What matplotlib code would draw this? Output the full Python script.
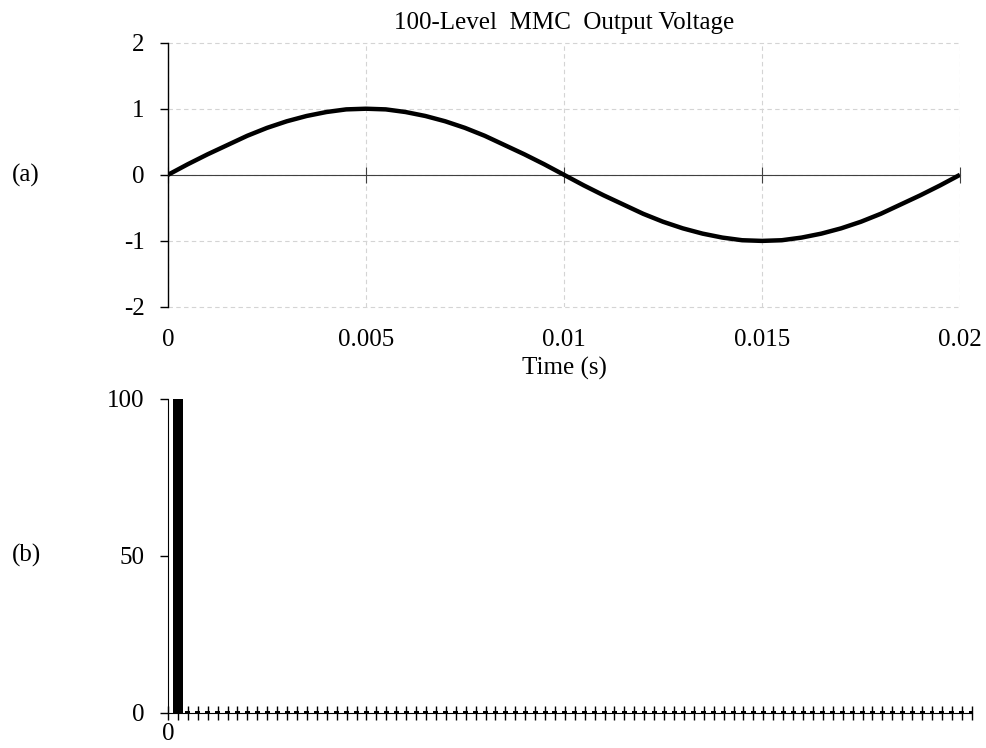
import matplotlib
matplotlib.use("Agg")
import matplotlib.pyplot as plt
import numpy as np

plt.rcParams["font.family"] = ["Liberation Serif", "DejaVu Serif"]
plt.rcParams["font.size"] = 18
plt.rcParams["axes.unicode_minus"] = False

# (a) output voltage, per unit, sampled every 0.5 ms over one 50 Hz cycle
time_s = np.linspace(0.0, 0.02, 41)
voltage_pu = [
    0.00, 0.16, 0.31, 0.45, 0.59, 0.71, 0.81, 0.89, 0.95, 0.99,
    1.00, 0.99, 0.95, 0.89, 0.81, 0.71, 0.59, 0.45, 0.31, 0.16,
    0.00, -0.16, -0.31, -0.45, -0.59, -0.71, -0.81, -0.89, -0.95, -0.99,
    -1.00, -0.99, -0.95, -0.89, -0.81, -0.71, -0.59, -0.45, -0.31, -0.16,
    0.00,
]
time_ticks = [0, 0.005, 0.01, 0.015, 0.02]
time_labels = ["0", "0.005", "0.01", "0.015", "0.02"]

# (b) harmonic spectrum, % of fundamental
harm_order = list(range(1, 82))
harm_mag = [100.0] + [0.5] * 80

fig = plt.figure(figsize=(9.87, 7.48), dpi=100)

# ---- (a) ----
ax1 = fig.add_axes([0.1702, 0.5896, 0.8024, 0.3534])
ax1.plot(time_s, voltage_pu, color="k", lw=3.2, solid_capstyle="butt", zorder=3)
ax1.set_xlim(0, 0.02)
ax1.set_ylim(-2, 2)
ax1.set_yticks([-2, -1, 0, 1, 2])
ax1.set_xticks(time_ticks)
ax1.grid(True, color="#d4d4d4", ls=(0, (4, 3)), lw=0.8)
for gl in ax1.get_xgridlines() + ax1.get_ygridlines():
    gl.set_clip_on(False)
ax1.spines["top"].set_visible(False)
ax1.spines["right"].set_visible(False)
ax1.spines["bottom"].set_position(("data", 0))
ax1.spines["bottom"].set_color("#404040")
ax1.spines["bottom"].set_linewidth(0.8)
ax1.spines["left"].set_linewidth(1.0)
ax1.tick_params(axis="x", direction="inout", length=12, width=0.8,
                color="#404040", labelbottom=False)
ax1.tick_params(axis="y", direction="out", length=6, width=1.0, pad=11)

sec = ax1.secondary_xaxis("bottom")
sec.set_xticks(time_ticks)
sec.set_xticklabels(time_labels)
sec.tick_params(length=0, pad=16)
sec.spines["bottom"].set_visible(False)
sec.set_xlabel("Time (s)", labelpad=4)

ax1.set_title("100-Level  MMC  Output Voltage", fontsize=18, pad=10)
fig.text(0.0122, 0.766, "(a)", ha="left", va="center")

# ---- (b) ----
ax2 = fig.add_axes([0.1702, 0.0468, 0.8143, 0.4198])
ax2.bar(harm_order[:1], harm_mag[:1], width=1.0, color="k", zorder=3)
ax2.bar(harm_order[1:], harm_mag[1:], width=0.5, color="k", zorder=3)
ax2.set_xlim(0, 81)
ax2.set_ylim(0, 100)
ax2.set_yticks([0, 50, 100])
ax2.set_xticks(range(0, 82))
ax2.set_xticklabels(["0"] + [""] * 81)
ax2.spines["top"].set_visible(False)
ax2.spines["right"].set_visible(False)
ax2.tick_params(axis="x", direction="inout", length=10, width=1.0, pad=2)
ax2.tick_params(axis="y", direction="out", length=6, width=1.0, pad=11)
fig.text(0.0122, 0.258, "(b)", ha="left", va="center")

fig.savefig("out.png", dpi=100)
